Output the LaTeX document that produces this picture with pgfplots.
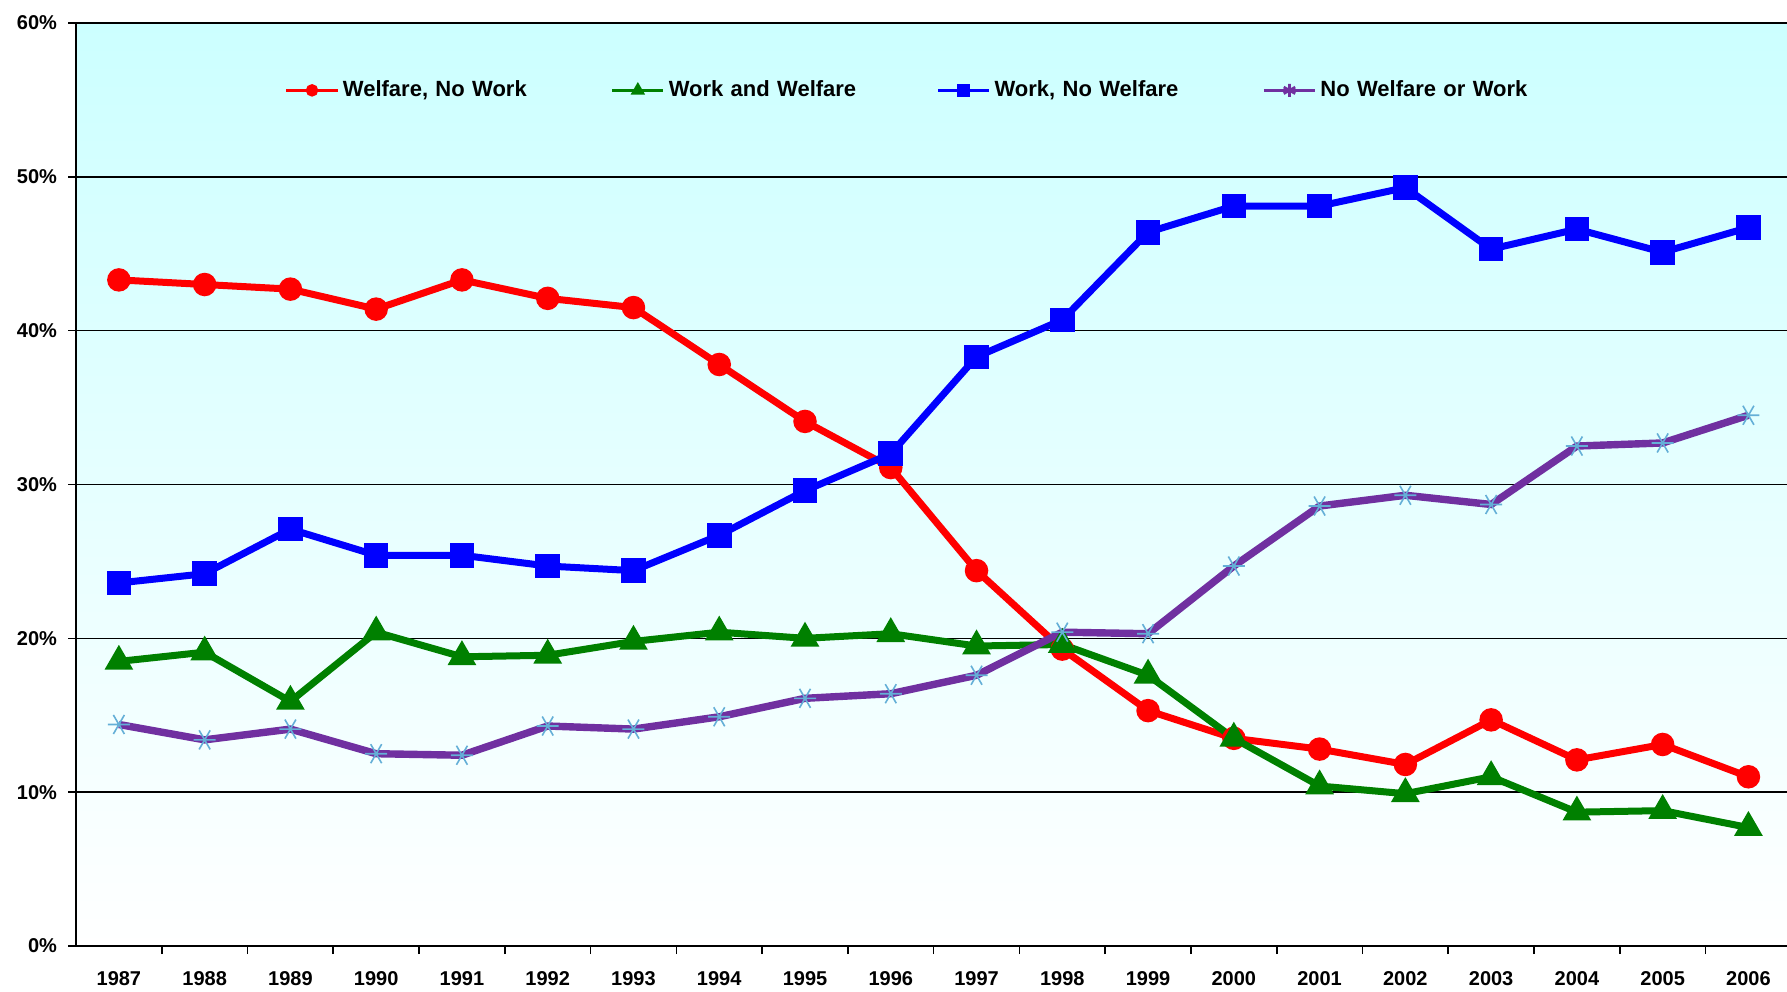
\documentclass[border=0pt]{standalone}
\usepackage{pgfplots}
\pgfplotsset{compat=1.18}
\usepackage{fontspec}
\setmainfont{Liberation Sans}
\definecolor{bgtop}{RGB}{204,255,255}
\definecolor{cred}{RGB}{255,0,0}
\definecolor{cgreen}{RGB}{0,128,0}
\definecolor{cblue}{RGB}{0,0,255}
\definecolor{cpurple}{RGB}{112,48,160}
\definecolor{cstar}{RGB}{100,175,215}
\begin{document}
\begin{tikzpicture}
\path[use as bounding box] (0,0) rectangle (893.5pt,495.5pt);
\begin{axis}[
  at={(38pt,22.5pt)}, anchor=south west,
  scale only axis, width=855.5pt, height=461.5pt,
  xmin=-0.5, xmax=19.45, ymin=0, ymax=60,
  clip=false,
  axis lines=left,
  axis line style={-, black, line width=1.1pt},
  axis background/.style={shade, top color=bgtop, bottom color=white},
  xtick={0,...,19},
  xticklabels={1987,1988,1989,1990,1991,1992,1993,1994,1995,1996,1997,1998,1999,2000,2001,2002,2003,2004,2005,2006},
  minor xtick={0.5,1.5,...,18.5},
  ytick={0,10,...,60},
  yticklabels={0\%,10\%,20\%,30\%,40\%,50\%,60\%},
  minor ytick={0,10,...,60},
  major tick length=0pt, minor tick length=4pt,
  tick align=outside,
  every tick/.style={black, line width=0.8pt},
  ymajorgrids,
  major grid style={black, line width=0.7pt},
  ticklabel style={font=\bfseries\fontsize{10}{12}\selectfont},
  xticklabel style={yshift=-9pt},
  yticklabel style={xshift=-6pt},
  legend columns=4,
  legend style={at={(0.122,0.927)}, anchor=west, draw=none, fill=none,
    font=\bfseries\fontsize{11}{13}\selectfont,
    /tikz/every even column/.append style={text width=132pt},
    inner sep=0pt},
  legend cell align=left,
  legend image code/.code={\draw[mark repeat=2,mark phase=2,line width=1.3pt,mark options={scale=0.6}] plot coordinates {(0cm,0cm) (0.45cm,0cm) (0.9cm,0cm)};},
]
\addplot[cred, line width=3.5pt, mark=*, mark size=4.1pt, mark options={solid}] coordinates {
(0,43.3) (1,43.0) (2,42.7) (3,41.4) (4,43.3) (5,42.1) (6,41.5) (7,37.8) (8,34.1) (9,31.1)
(10,24.4) (11,19.3) (12,15.3) (13,13.5) (14,12.8) (15,11.8) (16,14.7) (17,12.1) (18,13.1) (19,11.0)};
\addlegendentry{Welfare, No Work}
\addplot[cgreen, line width=3.5pt, mark=triangle*, mark size=4.8pt, mark options={solid}] coordinates {
(0,18.5) (1,19.1) (2,15.9) (3,20.4) (4,18.8) (5,18.9) (6,19.8) (7,20.4) (8,20.0) (9,20.3)
(10,19.5) (11,19.6) (12,17.6) (13,13.5) (14,10.4) (15,9.9) (16,11.0) (17,8.7) (18,8.8) (19,7.7)};
\addlegendentry{Work and Welfare}
\addplot[cblue, line width=3.5pt, mark=square*, mark size=4.4pt, mark options={solid}] coordinates {
(0,23.6) (1,24.2) (2,27.1) (3,25.4) (4,25.4) (5,24.7) (6,24.4) (7,26.7) (8,29.6) (9,32.0)
(10,38.3) (11,40.7) (12,46.4) (13,48.1) (14,48.1) (15,49.3) (16,45.3) (17,46.6) (18,45.1) (19,46.7)};
\addlegendentry{Work, No Welfare}
\addplot[cpurple, line width=3.7pt, mark=asterisk, mark size=5.5pt, mark options={solid, draw=cstar, line width=0.8pt, rotate=90}] coordinates {
(0,14.4) (1,13.4) (2,14.1) (3,12.5) (4,12.4) (5,14.3) (6,14.1) (7,14.9) (8,16.1) (9,16.4)
(10,17.6) (11,20.4) (12,20.3) (13,24.7) (14,28.6) (15,29.3) (16,28.7) (17,32.5) (18,32.7) (19,34.5)};
\addlegendentry{No Welfare or Work}
\end{axis}
\end{tikzpicture}
\end{document}
